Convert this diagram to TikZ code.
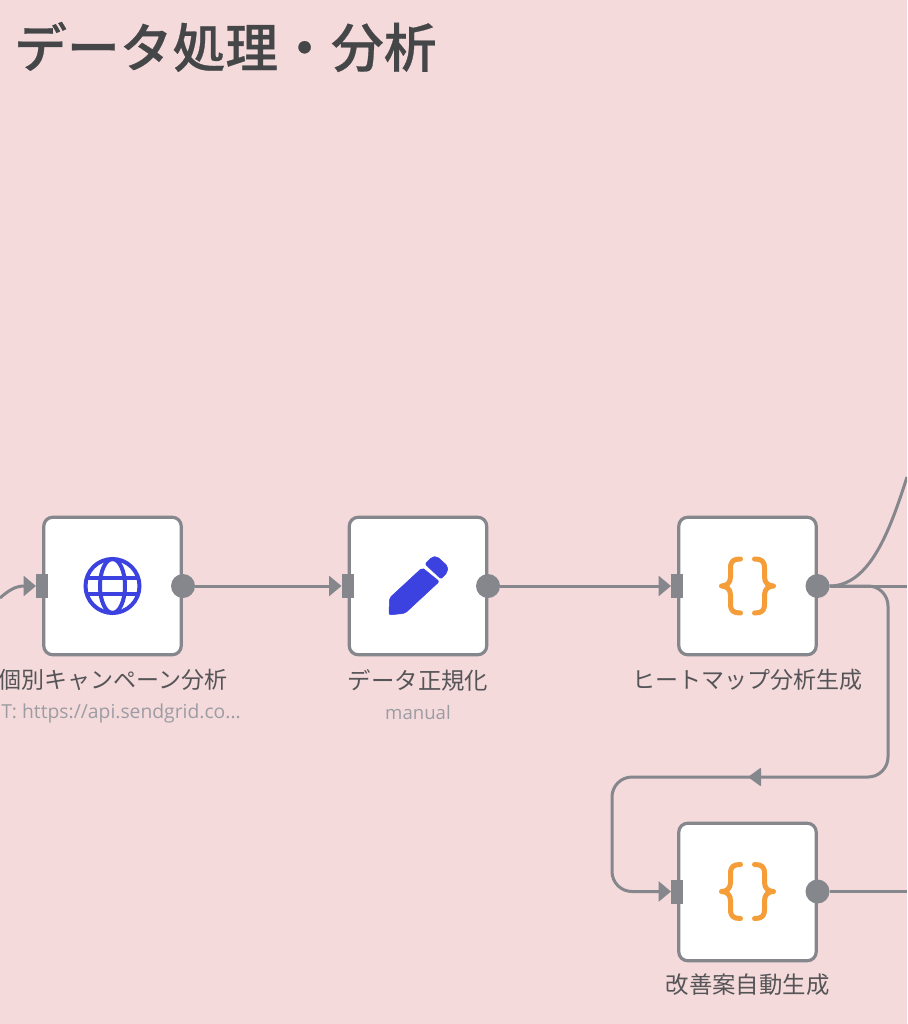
\documentclass[tikz,border=0pt]{standalone}
\usepackage{fontspec}
\usetikzlibrary{arrows.meta}
\newfontfamily\cjkfont{Noto Sans CJK JP}
\newfontfamily\cjktitle[FakeBold=0.5]{Noto Sans CJK JP Medium}
\newfontfamily\subfont{Open Sans}
\setmainfont{Liberation Sans}
\definecolor{bgpink}{HTML}{F5DADC}
\definecolor{edgegray}{HTML}{85878C}
\definecolor{titlegray}{HTML}{454647}
\definecolor{labelgray}{HTML}{555558}
\definecolor{subgray}{HTML}{9C9CA3}
\definecolor{iconblue}{HTML}{3B42E0}
\definecolor{iconorange}{HTML}{F59D38}
\tikzset{
  x=1pt,y=-1pt,
  card/.style={draw=edgegray,line width=3.2pt,fill=white,rounded corners=9pt,minimum width=137.5pt,minimum height=137.5pt,inner sep=0pt,outer sep=0pt},
  inport/.style={fill=edgegray,minimum width=12pt,minimum height=24pt,inner sep=0pt,outer sep=0pt},
  outport/.style={circle,fill=edgegray,minimum size=24pt,inner sep=0pt,outer sep=0pt},
  link/.style={draw=edgegray,line width=3pt},
  arrowlink/.style={link,-{Triangle[length=12.5pt,width=20pt]}},
  namelabel/.style={text=labelgray,font=\cjkfont\fontsize{23}{26}\selectfont,inner sep=0pt},
  namewide/.style={text=labelgray,font=\cjkfont\fontsize{23.4}{26}\selectfont,inner sep=0pt},
  sublabel/.style={text=subgray,font=\subfont\fontsize{18.6}{22}\selectfont,inner sep=0pt},
  sublong/.style={text=subgray,font=\subfont\fontsize{19.3}{22}\selectfont,inner sep=0pt},
  globeicon/.style={draw=iconblue,line width=4pt},
  pencilicon/.style={fill=iconblue,draw=iconblue,line width=.5pt,rounded corners=2pt},
  braceicon/.style={draw=iconorange,line width=5pt,line cap=round,line join=round},
}
\newcommand{\bracepair}[2]{%
  \draw[braceicon] (#1-7,#2-27) .. controls (#1-14,#2-27) and (#1-17,#2-25) .. (#1-17,#2-18)
    -- (#1-17,#2-9) .. controls (#1-17,#2-3) and (#1-21,#2) .. (#1-26,#2)
    .. controls (#1-21,#2) and (#1-17,#2+3) .. (#1-17,#2+9)
    -- (#1-17,#2+18) .. controls (#1-17,#2+25) and (#1-14,#2+27) .. (#1-7,#2+27);
  \draw[braceicon] (#1+7,#2-27) .. controls (#1+14,#2-27) and (#1+17,#2-25) .. (#1+17,#2-18)
    -- (#1+17,#2-9) .. controls (#1+17,#2-3) and (#1+21,#2) .. (#1+26,#2)
    .. controls (#1+21,#2) and (#1+17,#2+3) .. (#1+17,#2+9)
    -- (#1+17,#2+18) .. controls (#1+17,#2+25) and (#1+14,#2+27) .. (#1+7,#2+27);
}
\begin{document}
\begin{tikzpicture}
\fill[bgpink] (0,0) rectangle (907,1024);
\useasboundingbox (0,0) rectangle (907,1024);
\clip (0,0) rectangle (907,1024);

\node[anchor=west,text=titlegray,font=\cjktitle\fontsize{52.8}{60}\selectfont,inner sep=0pt] (title) at (14,47) {データ処理・分析};

% cards
\node[card] (analysis) at (112.5,586) {};
\node[card] (normal) at (418,586) {};
\node[card] (heat) at (747.5,586) {};
\node[card] (improve) at (747.5,892) {};

% ports
\node[inport] (analysisin) at (42,586) {};
\node[inport] (normalin) at (347.5,586) {};
\node[inport] (heatin) at (677,586) {};
\node[inport] (improvein) at (677,891.5) {};
\node[outport] (analysisout) at (183,586) {};
\node[outport] (normalout) at (488,586) {};
\node[outport] (heatout) at (817.5,586) {};
\node[outport] (improveout) at (817.5,891.5) {};

% free ends
\coordinate (leftend) at (0,598);
\coordinate (rightone) at (907,586);
\coordinate (righttop) at (907,477);
\coordinate (righttwo) at (907,891.5);

% connectors
\draw[arrowlink] (leftend) .. controls (8,591) and (15,586) .. (analysisin.west);
\draw[arrowlink] (analysisout) -- (normalin.west);
\draw[arrowlink] (normalout) -- (heatin.west);
\draw[link] (heatout) -- (rightone);
\draw[link] (heatout) .. controls (870,586) and (890,530) .. (righttop);
\draw[link] (improveout) -- (righttwo);
\draw[arrowlink,rounded corners=20pt] (heatout) -- (888,586) -- (888,777) -- (612,777) -- (612,891.5) -- (improvein.west);
\fill[edgegray,rounded corners=1pt] (748,777) -- (761,767.5) -- (761,786.5) -- cycle;

% redraw ports above the lines
\fill[edgegray] (analysisin.south west) rectangle (analysisin.north east);
\fill[edgegray] (normalin.south west) rectangle (normalin.north east);
\fill[edgegray] (heatin.south west) rectangle (heatin.north east);
\fill[edgegray] (improvein.south west) rectangle (improvein.north east);

% globe
\draw[globeicon] (112.5,586) circle (27);
\draw[globeicon] (112.5,586) ellipse (12.5 and 27);
\draw[globeicon] (88,578.3) -- (137,578.3);
\draw[globeicon] (88,593.5) -- (137,593.5);

% pencil
\fill[pencilicon] (389.5,598) -- (422.3,567.7) -- (439.3,581.5) -- (405,613.3) -- (389,615) -- cycle;
\fill[pencilicon] (425,564) -- (432,557) -- (437,556.5) -- (447.5,566) -- (447.5,572) -- (441,579) -- cycle;

% braces
\bracepair{747.5}{586}
\bracepair{747.5}{891.5}

% labels
\node[namelabel] (analysisname) at (113,680) {個別キャンペーン分析};
\node[sublong,anchor=east] (analysissub) at (241,713) {T: https://api.sendgrid.co...};
\node[namewide] (normalname) at (418,680) {データ正規化};
\node[sublabel] (normalsub) at (418,713) {manual};
\node[namelabel] (heatname) at (747.5,680) {ヒートマップ分析生成};
\node[namewide] (improvename) at (747.5,985) {改善案自動生成};
\end{tikzpicture}
\end{document}
